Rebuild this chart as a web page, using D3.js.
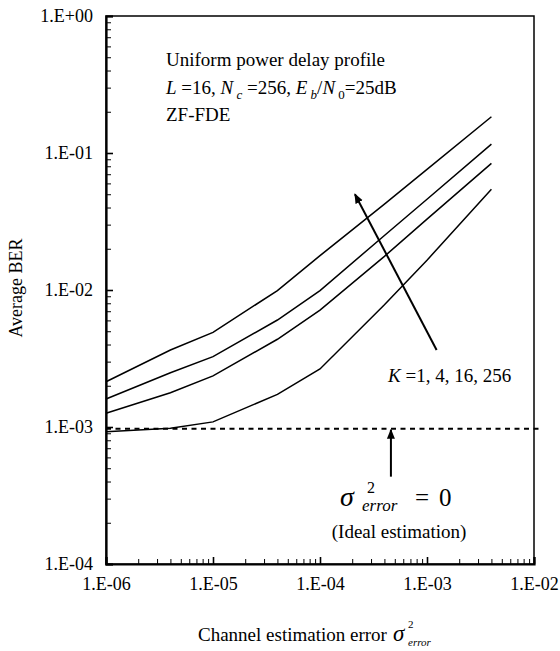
<!DOCTYPE html>
<html>
<head>
<meta charset="utf-8">
<script src="https://cdn.jsdelivr.net/npm/d3@7"></script>
<style>
  body { margin: 0; background: #fff; }
  svg { display: block; }
  svg text { font-family: "Liberation Serif", "DejaVu Serif", Tinos, "Times New Roman", serif !important; fill: #000; }
</style>
</head>
<body>
<svg id="chart" width="560" height="651"></svg>
<script>
// channel estimation error variance (x) and BER for each K
const errorVar = [1e-6, 4e-6, 1e-5, 4e-5, 1e-4, 4e-4, 1e-3, 4e-3];
const berK1   = [2.14e-3, 3.65e-3, 4.91e-3, 9.9e-3, 1.78e-2, 4.23e-2, 7.6e-2, 0.184];
const berK4   = [1.60e-3, 2.49e-3, 3.26e-3, 6.04e-3, 9.9e-3, 2.5e-2, 4.6e-2, 0.116];
const berK16  = [1.26e-3, 1.78e-3, 2.36e-3, 4.37e-3, 7.14e-3, 1.76e-2, 3.29e-2, 8.4e-2];
const berK256 = [0.924e-3, 0.98e-3, 1.09e-3, 1.73e-3, 2.65e-3, 7.8e-3, 1.65e-2, 5.43e-2];
const idealBer = 9.7e-4;

const xTicks = [1e-6, 1e-5, 1e-4, 1e-3, 1e-2];
const xTickLabels = ["1.E-06", "1.E-05", "1.E-04", "1.E-03", "1.E-02"];
const yTicks = [1e-4, 1e-3, 1e-2, 1e-1, 1];
const yTickLabels = ["1.E-04", "1.E-03", "1.E-02", "1.E-01", "1.E+00"];

const svg = d3.select("#chart");
const plotL = 106, plotR = 534, plotT = 16, plotB = 564;

let x = d3.scaleLog().domain([1e-6, 1e-2]).range([plotL, plotR]);
let y = d3.scaleLog().domain([1e-4, 1]).range([plotB, plotT]);

// minor tick values: 2..9 in every decade
let minorX = [], minorY = [];
for (let e = -6; e < -2; e++) for (let m = 2; m < 10; m++) minorX.push(m * Math.pow(10, e));
for (let e = -4; e < 0; e++) for (let m = 2; m < 10; m++) minorY.push(m * Math.pow(10, e));

// frame
svg.append("rect")
   .attr("x", plotL).attr("y", plotT)
   .attr("width", plotR - plotL).attr("height", plotB - plotT)
   .attr("fill", "none").attr("stroke", "#000").attr("stroke-width", 1.5);

// y axis (ticks inward)
svg.append("g")
   .attr("transform", "translate(" + plotL + ",0)")
   .call(d3.axisLeft(y).tickValues(minorY).tickSize(-5).tickFormat(""))
   .call(g => g.select(".domain").remove());
svg.append("g")
   .attr("transform", "translate(" + plotL + ",0)")
   .call(d3.axisLeft(y).tickValues(yTicks).tickSize(-7).tickPadding(13)
            .tickFormat((d, i) => yTickLabels[i]))
   .call(g => g.select(".domain").attr("stroke-width", 2.2))
   .call(g => g.selectAll(".tick line").attr("stroke-width", 1.6))
   .call(g => g.selectAll("text").attr("font-size", 18).attr("dy", "0.32em"));

// x axis (ticks inward)
svg.append("g")
   .attr("transform", "translate(0," + plotB + ")")
   .call(d3.axisBottom(x).tickValues(minorX).tickSize(-5).tickFormat(""))
   .call(g => g.select(".domain").remove());
svg.append("g")
   .attr("transform", "translate(0," + plotB + ")")
   .call(d3.axisBottom(x).tickValues(xTicks).tickSize(-7).tickPadding(12)
            .tickFormat((d, i) => xTickLabels[i]))
   .call(g => g.select(".domain").attr("stroke-width", 2.2))
   .call(g => g.selectAll(".tick line").attr("stroke-width", 1.6))
   .call(g => g.selectAll("text").attr("font-size", 18).attr("dy", "0.75em"));

// ideal estimation dashed line
svg.append("line")
   .attr("x1", x(1e-6)).attr("x2", x(1e-2) + 7)
   .attr("y1", y(idealBer)).attr("y2", y(idealBer))
   .attr("stroke", "#000").attr("stroke-width", 2)
   .attr("stroke-dasharray", "5,4.5");

// BER curves
let line = d3.line().x((d, i) => x(errorVar[i])).y(d => y(d));
[berK1, berK4, berK16, berK256].forEach(s => {
    svg.append("path")
       .datum(s)
       .attr("d", line)
       .attr("fill", "none")
       .attr("stroke", "#000")
       .attr("stroke-width", 1.5);
});

// arrow heads
svg.append("defs").append("marker")
   .attr("id", "head")
   .attr("viewBox", "0 0 10 10")
   .attr("refX", 9).attr("refY", 5)
   .attr("markerWidth", 5).attr("markerHeight", 5)
   .attr("orient", "auto")
   .append("path").attr("d", "M0,1L10,5L0,9Z").attr("fill", "#000");

svg.append("line")
   .attr("x1", x(1.23e-3)).attr("y1", y(3.65e-3))
   .attr("x2", x(2.12e-4)).attr("y2", y(5.0e-2))
   .attr("stroke", "#000").attr("stroke-width", 2)
   .attr("marker-end", "url(#head)");

svg.append("line")
   .attr("x1", x(4.6e-4)).attr("y1", y(4.34e-4))
   .attr("x2", x(4.6e-4)).attr("y2", y(idealBer) + 1)
   .attr("stroke", "#000").attr("stroke-width", 2)
   .attr("marker-end", "url(#head)");

// annotations
let note = svg.append("g").attr("font-size", 19);
note.append("text").attr("x", 166).attr("y", 66).text("Uniform power delay profile");
let t2 = note.append("text").attr("x", 166).attr("y", 94);
t2.append("tspan").attr("font-style", "italic").text("L");
t2.append("tspan").text(" =16, ");
t2.append("tspan").attr("font-style", "italic").text("N");
t2.append("tspan").attr("font-style", "italic").attr("font-size", 13).attr("dy", 5).text(" c");
t2.append("tspan").attr("dy", -5).text(" =256, ");
t2.append("tspan").attr("font-style", "italic").text("E");
t2.append("tspan").attr("font-style", "italic").attr("font-size", 13).attr("dy", 5).text(" b");
t2.append("tspan").attr("dy", -5).text("/");
t2.append("tspan").attr("font-style", "italic").text("N");
t2.append("tspan").attr("font-size", 13).attr("dy", 5).text(" 0");
t2.append("tspan").attr("dy", -5).text("=25dB");
note.append("text").attr("x", 166).attr("y", 121).text("ZF-FDE");

let tk = note.append("text").attr("x", 388).attr("y", 382);
tk.append("tspan").attr("font-style", "italic").text("K");
tk.append("tspan").text(" =1, 4, 16, 256");

// sigma^2_error = 0
let ts = svg.append("text").attr("x", 340).attr("y", 506);
ts.append("tspan").attr("font-style", "italic").attr("font-size", 28).text("σ");
ts.append("tspan").attr("font-size", 16).attr("x", 367).attr("y", 493).text("2");
ts.append("tspan").attr("font-size", 17).attr("font-style", "italic").attr("x", 362).attr("y", 511).text("error");
ts.append("tspan").attr("font-size", 25).attr("x", 415).attr("y", 506).text("=");
ts.append("tspan").attr("font-size", 25).attr("x", 439).attr("y", 506).text("0");
svg.append("text").attr("x", 399).attr("y", 538).attr("text-anchor", "middle")
   .attr("font-size", 19).text("(Ideal estimation)");

// axis titles
svg.append("text").attr("x", 198).attr("y", 641).attr("font-size", 19)
   .text("Channel estimation error");
svg.append("text").attr("x", 393).attr("y", 641).attr("font-size", 23)
   .attr("font-style", "italic").text("σ");
svg.append("text").attr("x", 408).attr("y", 628).attr("font-size", 11).text("2");
svg.append("text").attr("x", 408).attr("y", 646).attr("font-size", 11)
   .attr("font-style", "italic").text("error");

svg.append("text")
   .attr("transform", "translate(22,288) rotate(-90)")
   .attr("text-anchor", "middle")
   .attr("font-size", 18)
   .text("Average BER");
</script>
</body>
</html>
